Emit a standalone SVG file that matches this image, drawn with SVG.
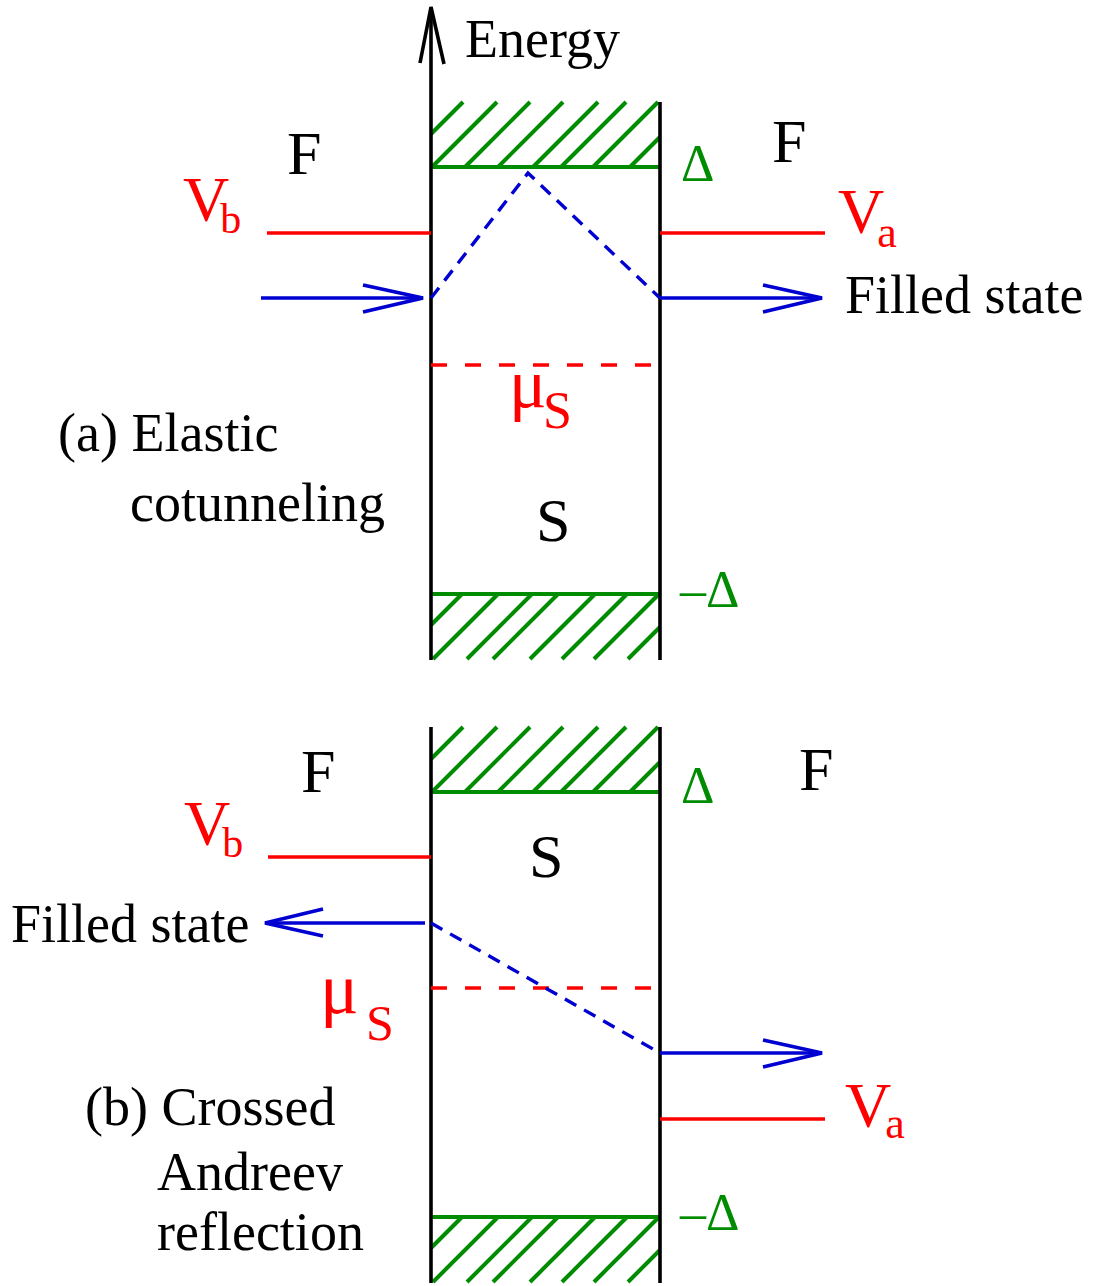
<svg xmlns="http://www.w3.org/2000/svg" width="1093" height="1286" viewBox="0 0 1093 1286">
<style>
.blk{stroke:#000;stroke-width:3.6;fill:none}
.grn{stroke:#008c00;stroke-width:4;fill:none}
.red{stroke:#ff0000;stroke-width:3.6;fill:none}
.reddash{stroke:#ff0000;stroke-width:3.4;fill:none;stroke-dasharray:16 18}
.blu{stroke:#0000d0;stroke-width:3.6;fill:none}
.bludash{stroke:#0000d0;stroke-width:3.4;fill:none;stroke-dasharray:13 9}
text{font-family:"Liberation Serif","Times New Roman",serif}
.t54{font-size:54px;fill:#000}
.t62{font-size:62px;fill:#000}
.rd{fill:#ff0000}
.gr{fill:#008c00}
</style>
<defs>
<g id="hatchTop" class="grn">
<line x1="463" y1="102" x2="431" y2="134"/>
<line x1="497" y1="102" x2="432" y2="167"/>
<line x1="530" y1="102" x2="465" y2="167"/>
<line x1="563" y1="102" x2="498" y2="167"/>
<line x1="598" y1="102" x2="533" y2="167"/>
<line x1="626" y1="102" x2="561" y2="167"/>
<line x1="658" y1="102" x2="593" y2="167"/>
<line x1="660" y1="137" x2="630" y2="167"/>
<line x1="431" y1="167" x2="660" y2="167"/>
</g>
<g id="hatchBot" class="grn">
<line x1="431" y1="594" x2="660" y2="594"/>
<line x1="462" y1="594" x2="431" y2="625"/>
<line x1="498" y1="594" x2="433" y2="659"/>
<line x1="532" y1="594" x2="467" y2="659"/>
<line x1="558" y1="594" x2="493" y2="659"/>
<line x1="595" y1="594" x2="530" y2="659"/>
<line x1="627" y1="594" x2="562" y2="659"/>
<line x1="659" y1="594" x2="594" y2="659"/>
<line x1="660" y1="627" x2="628" y2="659"/>
</g>
</defs>

<!-- Panel (a) -->
<g id="panel-a">
<g id="a-gap-top"><use href="#hatchTop"/></g>
<g id="a-gap-bottom"><use href="#hatchBot"/></g>
<g id="a-walls">
<line class="blk" x1="431" y1="8" x2="431" y2="660"/>
<polyline class="blk" points="420,63 431,7 444,64" stroke-width="3.2"/>
<line class="blk" x1="660" y1="102" x2="660" y2="660"/>
</g>
<g id="a-connectors">
<line class="red" x1="267" y1="233" x2="431" y2="233"/>
<line class="red" x1="660" y1="233" x2="825" y2="233"/>
<line class="reddash" x1="431" y1="365" x2="660" y2="365"/>
<line class="blu" x1="261" y1="298" x2="423" y2="298"/>
<polyline class="blu" points="363,285 423,298 363,312"/>
<polyline class="bludash" points="431,298 528,173 660,298"/>
<line class="blu" x1="660" y1="298" x2="822" y2="298"/>
<polyline class="blu" points="763,285 822,298 763,312"/>
</g>
<g id="a-labels">
<text class="t54" x="465" y="57" font-size="53">Energy</text>
<text class="t62" x="287" y="174">F</text>
<text class="t62" x="772" y="162">F</text>
<text class="gr" x="681" y="181" font-size="52">Δ</text>
<text class="gr" x="680" y="607" font-size="52">–Δ</text>
<text class="rd" x="183" y="221" font-size="64">V<tspan dx="-9" dy="12" font-size="42">b</tspan></text>
<text class="rd" x="838" y="233" font-size="64">V<tspan dx="-7" dy="14" font-size="44">a</tspan></text>
<text class="t54" x="845" y="313">Filled state</text>
<text class="rd" x="509" y="407" font-size="70">μ</text>
<text class="rd" x="543" y="428" font-size="52">S</text>
<text class="t54" x="58" y="451">(a) Elastic</text>
<text class="t54" x="130" y="521">cotunneling</text>
<text class="t62" x="536" y="541">S</text>
</g>
</g>

<!-- Panel (b) -->
<g id="panel-b">
<g id="b-gap-top"><use href="#hatchTop" transform="translate(0,625)"/></g>
<g id="b-gap-bottom"><use href="#hatchBot" transform="translate(0,623)"/></g>
<g id="b-walls">
<line class="blk" x1="431" y1="727" x2="431" y2="1283"/>
<line class="blk" x1="660" y1="727" x2="660" y2="1283"/>
</g>
<g id="b-connectors">
<line class="red" x1="268" y1="857" x2="431" y2="857"/>
<line class="red" x1="660" y1="1119" x2="825" y2="1119"/>
<line class="reddash" x1="431" y1="988" x2="660" y2="988"/>
<line class="blu" x1="265" y1="923" x2="425" y2="923"/>
<polyline class="blu" points="323,909 265,923 323,936"/>
<line class="bludash" x1="431" y1="923" x2="660" y2="1053"/>
<line class="blu" x1="660" y1="1053" x2="822" y2="1053"/>
<polyline class="blu" points="763,1040 822,1053 763,1067"/>
</g>
<g id="b-labels">
<text class="t62" x="301" y="792">F</text>
<text class="t62" x="799" y="790">F</text>
<text class="gr" x="681" y="803" font-size="52">Δ</text>
<text class="gr" x="680" y="1230" font-size="52">–Δ</text>
<text class="rd" x="184" y="845" font-size="64">V<tspan dx="-8" dy="12" font-size="42">b</tspan></text>
<text class="rd" x="845" y="1127" font-size="64">V<tspan dx="-6" dy="11" font-size="44">a</tspan></text>
<text class="t62" x="529" y="877">S</text>
<text class="t54" x="11" y="942">Filled state</text>
<text class="rd" x="320" y="1013" font-size="72">μ</text>
<text class="rd" x="366" y="1040" font-size="50">S</text>
<text class="t54" x="85" y="1125">(b) Crossed</text>
<text class="t54" x="157" y="1190">Andreev</text>
<text class="t54" x="157" y="1250">reflection</text>
</g>
</g>
</svg>
